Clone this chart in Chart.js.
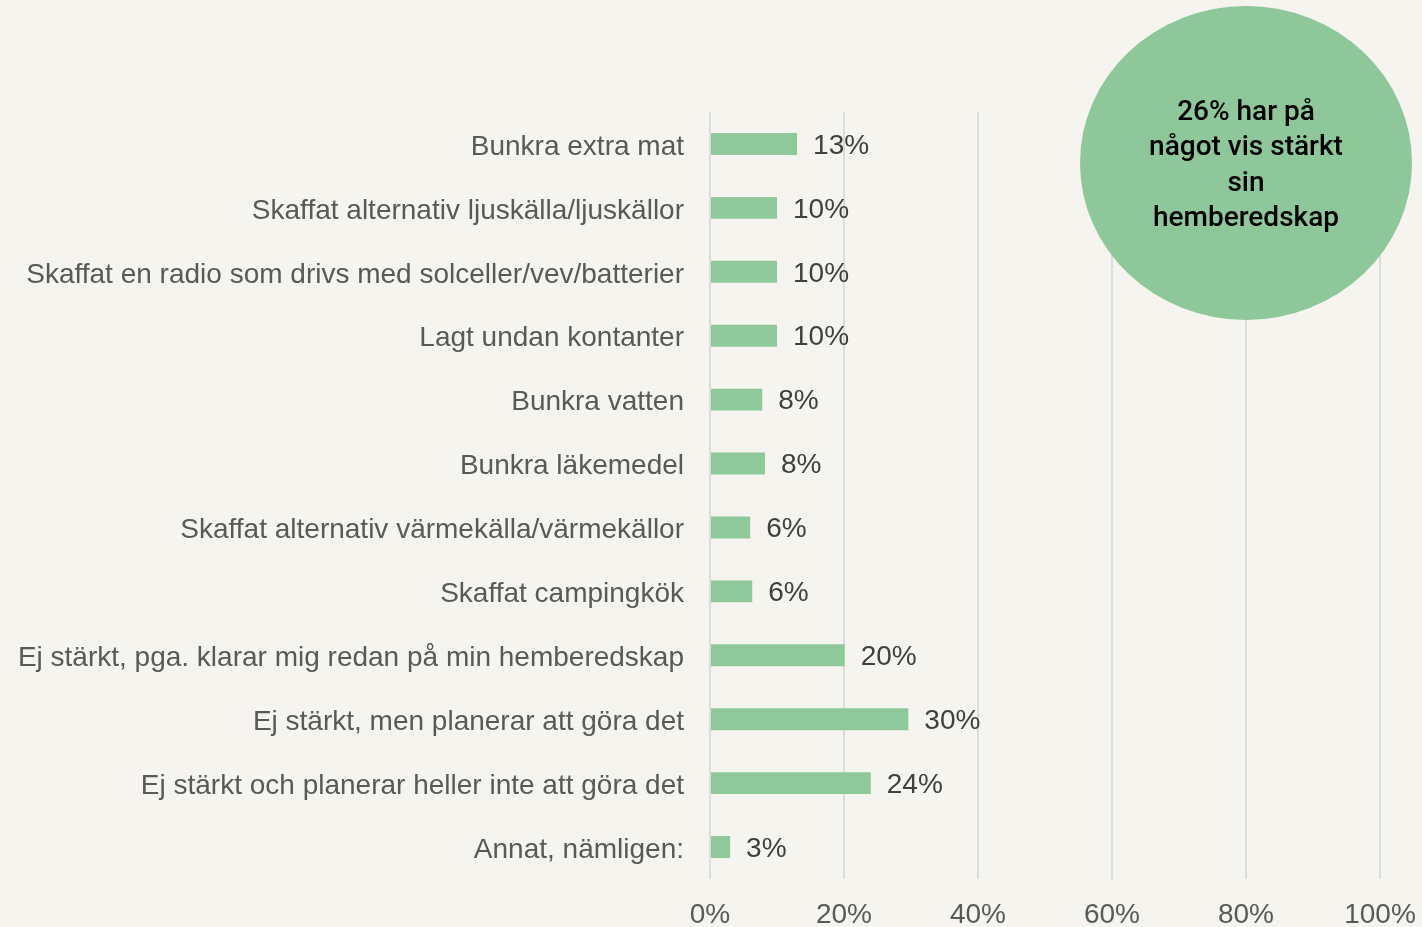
<!DOCTYPE html>
<html lang="sv">
<head>
    <meta charset="utf-8">
    <title>Hemberedskap</title>
    <script src="https://cdn.jsdelivr.net/npm/chart.js@4.4.0/dist/chart.umd.min.js"></script>
    <style>
        html, body { margin: 0; padding: 0; background: #f5f4ee; }
        #wrap { width: 1422px; height: 927px; position: relative; }
    </style>
</head>
<body>
<div id="wrap"><canvas id="monGraphique"></canvas></div>

<script>
    // data
    var categories = [
        'Bunkra extra mat',
        'Skaffat alternativ ljuskälla/ljuskällor',
        'Skaffat en radio som drivs med solceller/vev/batterier',
        'Lagt undan kontanter',
        'Bunkra vatten',
        'Bunkra läkemedel',
        'Skaffat alternativ värmekälla/värmekällor',
        'Skaffat campingkök',
        'Ej stärkt, pga. klarar mig redan på min hemberedskap',
        'Ej stärkt, men planerar att göra det',
        'Ej stärkt och planerar heller inte att göra det',
        'Annat, nämligen:'
    ];
    var values = [13, 10, 10, 10, 7.8, 8.2, 6.0, 6.3, 20.1, 29.6, 24, 3];
    var valueLabels = ['13%', '10%', '10%', '10%', '8%', '8%', '6%', '6%', '20%', '30%', '24%', '3%'];
    var bubbleLines = ['26% har på', 'något vis stärkt', 'sin', 'hemberedskap'];

    var police = '"Liberation Sans", Arial, sans-serif';

    // taille du texte : le plus long libellé doit tenir dans ~671px
    var mesure = document.createElement('canvas').getContext('2d');
    mesure.font = '26px ' + police;
    var plusLong = 0;
    categories.forEach(function (c) {
        plusLong = Math.max(plusLong, mesure.measureText(c).width);
    });
    var taille = Math.min(28, 26 * 671 / plusLong);

    // étiquettes de valeur au bout des barres
    var etiquettes = {
        id: 'etiquettes',
        afterDatasetsDraw: function (chart) {
            var c = chart.ctx;
            var meta = chart.getDatasetMeta(0);
            c.save();
            c.font = taille + 'px ' + police;
            c.fillStyle = '#404040';
            c.textAlign = 'left';
            c.textBaseline = 'middle';
            meta.data.forEach(function (bar, i) {
                c.fillText(valueLabels[i], bar.x + 16, bar.y + 2);
            });
            c.restore();
        }
    };

    // bulle verte en haut à droite
    var bulle = {
        id: 'bulle',
        afterDraw: function (chart) {
            var c = chart.ctx;
            c.save();
            c.beginPath();
            c.ellipse(1246, 163, 166, 157, 0, 0, Math.PI * 2);
            c.fillStyle = '#8dc79a';
            c.fill();
            c.fillStyle = '#000000';
            c.font = '500 28px Roboto, ' + police;
            c.textAlign = 'center';
            c.textBaseline = 'middle';
            bubbleLines.forEach(function (l, i) {
                c.fillText(l, 1246, 113 + i * 35.3);
            });
            c.restore();
        }
    };

    var ctx = document.getElementById('monGraphique').getContext('2d');
    var chart = new Chart(ctx, {
        type: 'bar',
        data: {
            labels: categories,
            datasets: [{
                data: values,
                backgroundColor: '#8fc89a',
                borderWidth: 0,
                categoryPercentage: 1,
                barPercentage: 0.344
            }]
        },
        options: {
            indexAxis: 'y',
            responsive: true,
            maintainAspectRatio: false,
            animation: false,
            layout: { padding: { left: 0, right: 42, top: 112, bottom: 0 } },
            plugins: {
                legend: { display: false },
                tooltip: { enabled: false }
            },
            scales: {
                x: {
                    min: 0,
                    max: 100,
                    ticks: {
                        stepSize: 20,
                        color: '#595959',
                        font: { family: police, size: taille },
                        padding: 19,
                        callback: function (v) { return v + '%'; }
                    },
                    grid: { color: '#dcdcd8', lineWidth: 2, drawTicks: false },
                    border: { display: false },
                    afterFit: function (scale) {
                        scale.height = 48;
                        scale.paddingLeft = 0;
                        scale.paddingRight = 0;
                    }
                },
                y: {
                    ticks: {
                        color: '#595959',
                        font: { family: police, size: taille },
                        padding: 26,
                        labelOffset: 3
                    },
                    grid: { display: false, drawTicks: false },
                    border: { display: false },
                    afterFit: function (scale) { scale.width = 710; }
                }
            }
        },
        plugins: [etiquettes, bulle]
    });
</script>
</body>
</html>
